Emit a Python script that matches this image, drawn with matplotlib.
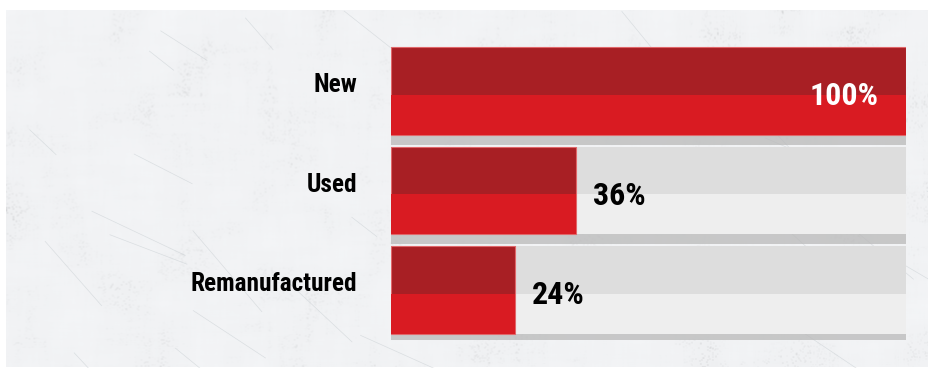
import numpy as np
import matplotlib
matplotlib.use("Agg")
import matplotlib.pyplot as plt
from matplotlib.transforms import ScaledTranslation

# Share of buyers willing to purchase each type of part
categories = ["New", "Used", "Remanufactured"]
shares = [100, 36, 24]
share_labels = ["100%", "36%", "24%"]

W_PX, H_PX, DPI = 929, 368, 100
fig = plt.figure(figsize=(W_PX / DPI, H_PX / DPI), dpi=DPI)
fig.patch.set_facecolor("white")


def box_blur(a, k):
    kern = np.ones(k) / k
    blur = lambda m: np.apply_along_axis(
        lambda c: np.convolve(c, kern, mode="same"), 0,
        np.apply_along_axis(lambda r: np.convolve(r, kern, mode="same"), 1, m))
    return blur(a) / blur(np.ones_like(a))


# Scuffed, pale concrete-like backdrop: white base with patchy grey speckle
rng = np.random.default_rng(11)
th, tw = 358, 923
mottle = box_blur(rng.random((th, tw)), 35)
mottle = (mottle - mottle.min()) / (mottle.max() - mottle.min())
patch = np.clip((mottle - 0.50) * 2.5, 0, 1)
specks = box_blur((rng.random((th, tw)) > 0.92).astype(float), 2)
shade = 0.975 - 0.20 * specks * patch - 0.03 * mottle
shade = np.clip(shade, 0.82, 1.0)
tex = np.dstack([shade * 0.985, shade * 0.99, shade * 0.998])

bg = fig.add_axes([6 / W_PX, 0, tw / W_PX, th / H_PX])
bg.imshow(tex, aspect="auto", interpolation="bilinear")
# fine scratches
for _ in range(30):
    x0, y0 = rng.uniform(0, tw), rng.uniform(0, th)
    ang = rng.uniform(-0.9, -0.3)
    ln = rng.uniform(30, 120)
    bg.plot([x0, x0 + ln * np.cos(ang)], [y0, y0 - ln * np.sin(ang)],
            color="#c3cace", lw=0.5, alpha=0.5)
bg.set_xlim(0, tw)
bg.set_ylim(th, 0)
bg.axis("off")

# Bar panel
pitch = 99.5
ax_top = 41.25
ax = fig.add_axes([391 / W_PX, (H_PX - ax_top - 3 * pitch) / H_PX,
                   515 / W_PX, 3 * pitch / H_PX])
ax.set_facecolor("none")
ax.set_xlim(0, 100)
ax.set_ylim(2.5, -0.5)
ax.axis("off")

y = np.arange(len(categories))
h = 0.884
low = 0.46 * h  # height of the lower (brighter) band
full = [100] * len(y)

# drop shadow under each track
ax.barh(y + 0.05, full, height=h + 0.1, color="#b9b9b9", alpha=0.75, zorder=1)
# grey track
ax.barh(y, full, height=h, color="#dddddd", zorder=2)
ax.barh(y + (h - low) / 2, full, height=low, color="#eeeeee", zorder=2)
# red value bars
ax.barh(y, shares, height=h, color="#a81f24", edgecolor="#e0676a", linewidth=0.8, zorder=3)
ax.barh(y + (h - low) / 2, shares, height=low, color="#d91b22", zorder=3)

label_font = dict(family=["Roboto Condensed", "Barlow Condensed", "Oswald",
                          "IBM Plex Sans Condensed", "Open Sans", "DejaVu Sans"],
                  fontweight="bold", fontstretch="condensed")
offset = lambda dx, dy: ax.transData + ScaledTranslation(dx / DPI, dy / DPI, fig.dpi_scale_trans)

for yi, cat in zip(y, categories):
    ax.text(0, yi, cat, ha="right", va="center", fontsize=18.2, color="black",
            transform=offset(-34, 6), **label_font)

for yi, v, lab in zip(y, shares, share_labels):
    if v >= 90:
        ax.text(v, yi, lab, ha="right", va="center", fontsize=23, color="white",
                transform=offset(-27, -5), **label_font)
    else:
        ax.text(v, yi, lab, ha="left", va="center", fontsize=23, color="black",
                transform=offset(17, -5), **label_font)

fig.savefig("out.png", dpi=DPI, facecolor="white")
